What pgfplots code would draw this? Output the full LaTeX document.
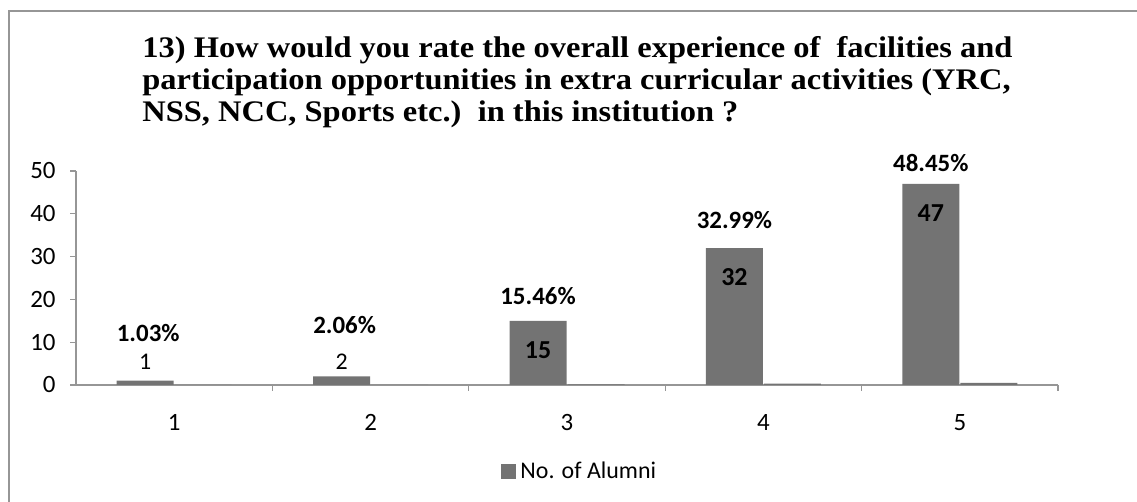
\documentclass[border=0pt]{standalone}
\usepackage{fontspec}
\setmainfont{Carlito}
\newfontfamily\titlefont{Liberation Serif}[FakeStretch=1.086]
\usepackage{pgfplots}
\pgfplotsset{compat=1.18}
\definecolor{barcol}{RGB}{115,115,115}
\definecolor{axcol}{RGB}{150,150,150}
\begin{document}
\begin{tikzpicture}[x=0.5bp,y=0.5bp]
\useasboundingbox (0,0) rectangle (1137,502);
% chart area frame (only left and top visible)
\draw[axcol, line width=0.7bp] (9,0) -- (9,491) -- (1137,491);
% title
\begin{scope}[every node/.style={anchor=base west, inner sep=0pt, font=\titlefont\bfseries\fontsize{15}{18}\selectfont}]
\node at (142,444) {13) How would you rate the overall experience of\ \ facilities and};
\node at (142,412) {participation opportunities in extra curricular activities (YRC,};
\node at (142,380) {NSS, NCC, Sports etc.)\ \ in this institution ?};
\end{scope}
\begin{axis}[
  at={(38bp,58.5bp)}, anchor=origin,
  scale only axis, width=491bp, height=107bp,
  xmin=0.5, xmax=5.5, ymin=0, ymax=50,
  ybar, bar width=28.5bp,
  axis x line*=bottom, axis y line*=left,
  axis line style={axcol, line width=0.6bp, -},
  tick style={axcol, line width=0.6bp},
  tick align=outside,
  xtick={1,2,3,4,5}, major x tick style={draw=none},
  minor xtick={1.5,2.5,3.5,4.5,5.5},
  minor tick length=3bp,
  ytick={0,10,20,30,40,50}, major tick length=3bp,
  /pgf/number format/assume math mode=true,
  ticklabel style={font=\fontsize{12.5}{14}\selectfont, inner sep=0pt},
  xticklabel style={anchor=base, yshift=-20bp},
  yticklabel style={anchor=east, xshift=-7bp},
  clip=false,
  legend style={at={(axis description cs:0.514,-0.407)}, anchor=center, draw=none, fill=none,
    font=\fontsize{12}{14}\selectfont, inner sep=0pt},
  legend image code/.code={\fill[barcol] (0bp,-3.5bp) rectangle (7.5bp,4bp);},
]
\addplot[fill=barcol, draw=none, bar shift=-14.5bp] coordinates {(1,1) (2,2) (3,15) (4,32) (5,47)};
\addlegendentry{No. of Alumni}
\addplot[fill=barcol, draw=none, bar shift=14.5bp, forget plot] coordinates {(1,0.0103) (2,0.0206) (3,0.1546) (4,0.3299) (5,0.4845)};
\begin{scope}[every node/.style={font=\fontsize{12}{14}\selectfont, inner sep=0pt, anchor=center}]
\node[xshift=-14.5bp] at (axis cs:1,5.4) {1};
\node[xshift=-14.5bp] at (axis cs:2,5.4) {2};
\node[xshift=-14.5bp, font=\bfseries\fontsize{13}{14}\selectfont] at (axis cs:3,8.2) {15};
\node[xshift=-14.5bp, font=\bfseries\fontsize{13}{14}\selectfont] at (axis cs:4,25.2) {32};
\node[xshift=-14.5bp, font=\bfseries\fontsize{13}{14}\selectfont] at (axis cs:5,40.2) {47};
\node[xshift=-13bp, font=\bfseries\fontsize{12.5}{14}\selectfont] at (axis cs:1,12.1) {1.03\%};
\node[xshift=-13bp, font=\bfseries\fontsize{12.5}{14}\selectfont] at (axis cs:2,14.0) {2.06\%};
\node[xshift=-14.5bp, font=\bfseries\fontsize{12.5}{14}\selectfont] at (axis cs:3,20.8) {15.46\%};
\node[xshift=-14.5bp, font=\bfseries\fontsize{12.5}{14}\selectfont] at (axis cs:4,38.6) {32.99\%};
\node[xshift=-14.5bp, font=\bfseries\fontsize{12.5}{14}\selectfont] at (axis cs:5,51.9) {48.45\%};
\end{scope}
\end{axis}
\end{tikzpicture}
\end{document}
